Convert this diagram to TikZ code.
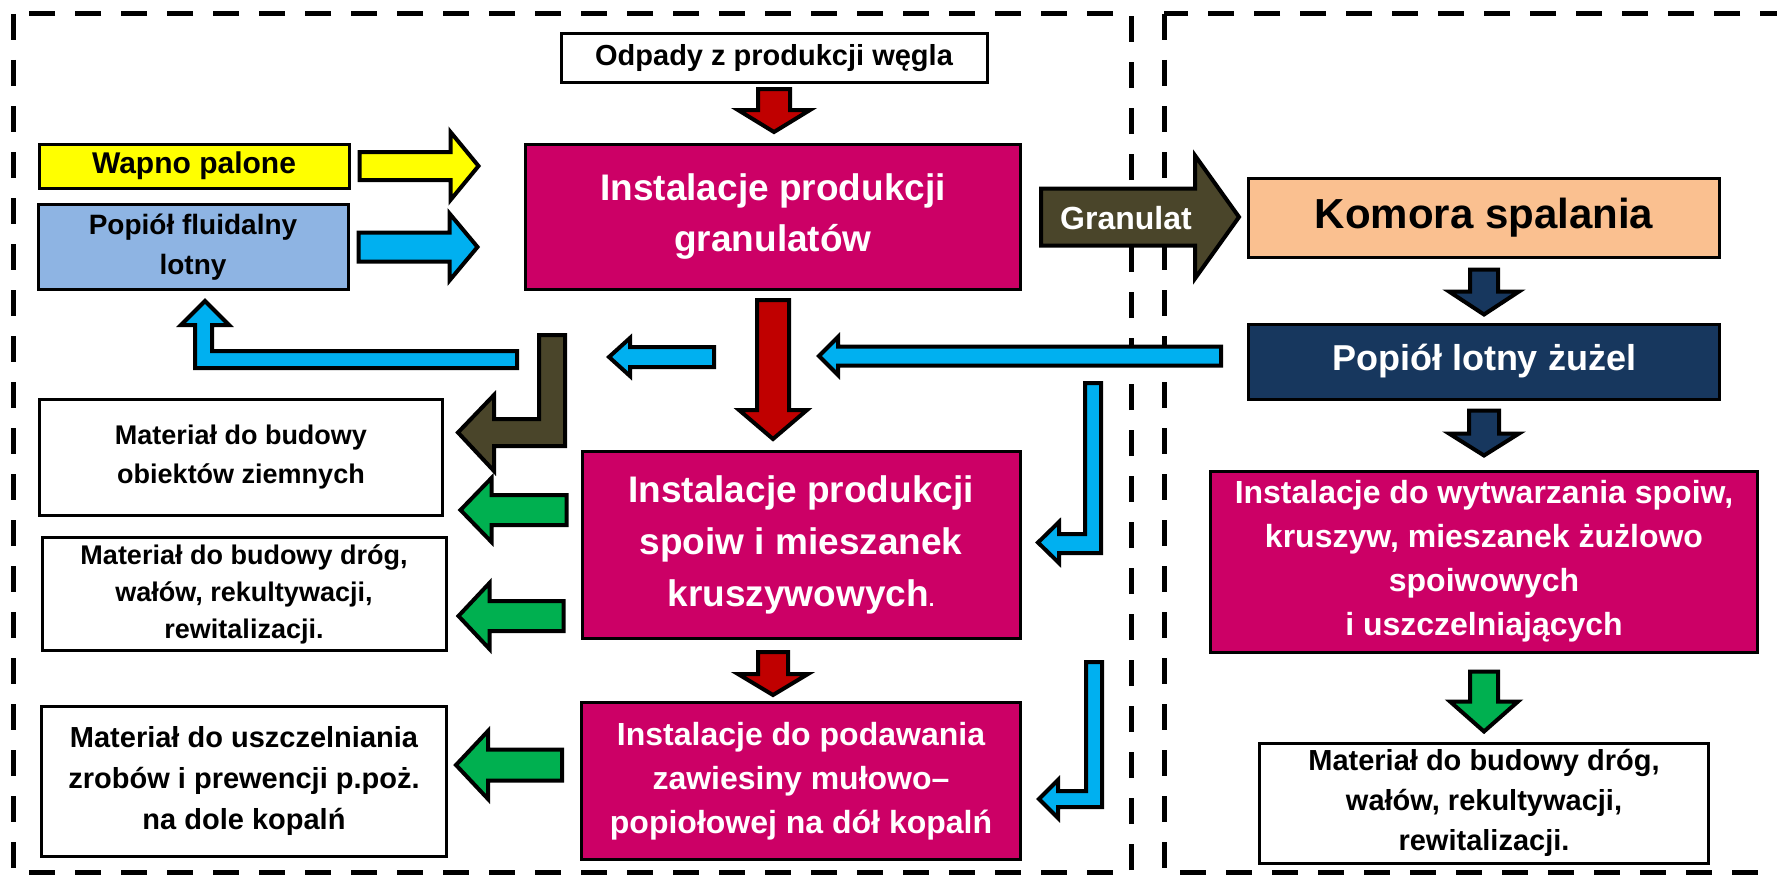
\documentclass[tikz,border=0pt]{standalone}
\usepackage{fontspec}
\setmainfont{Liberation Sans}
\usetikzlibrary{calc,positioning}

\definecolor{malinowy}{HTML}{CC0066}
\definecolor{czerwony}{HTML}{C00000}
\definecolor{niebieski}{HTML}{00B0F0}
\definecolor{zielony}{HTML}{00B050}
\definecolor{oliwka}{HTML}{4A452A}
\definecolor{granat}{HTML}{17375E}
\definecolor{brzoskwinia}{HTML}{FAC090}
\definecolor{blekit}{HTML}{8EB4E3}
\definecolor{zolty}{HTML}{FFFF00}

\newcommand{\rozm}[2]{\fontsize{#1}{#2}\selectfont}
% kolor, ogon, kat, dlugosc, pol. trzonu, pol. grotu, dl. grotu
\newcommand{\strzalka}[7]{%
  \draw[strz, fill=#1, shift={#2}, rotate=#3]
    (0,-#5) -- ({#4-#7},-#5) -- ({#4-#7},-#6) -- (#4,0) -- ({#4-#7},#6) -- ({#4-#7},#5) -- (0,#5) -- cycle;}

\tikzset{
  pole/.style={draw=black, line width=3pt, align=center, inner sep=0pt, text=black},
  strz/.style={draw=black, line width=4pt, line join=miter, miter limit=10},
  ramka/.style={line width=5pt, dash pattern=on 26pt off 20pt},
}

\begin{document}
\begin{tikzpicture}[x=1pt, y=-1pt]
\useasboundingbox (0,0) rectangle (1777,875);
\clip (0,0) rectangle (1777,875);
% ramki
\draw[ramka] (13,14) rectangle (1131,872);
\draw[ramka] (1164,14) rectangle (1790,872);

% lewa strona
\node[pole, fill=white, minimum width=426pt, minimum height=49pt, font=\bfseries\rozm{29}{35}] (odpady) at (774,58) {Odpady z produkcji węgla};
\node[pole, fill=malinowy, text=white, minimum width=495pt, minimum height=145pt, font=\bfseries\rozm{37}{51}] (granulaty) at (773,217) {Instalacje produkcji\\granulatów};
\node[pole, fill=zolty, minimum width=310pt, minimum height=44pt, font=\bfseries\rozm{30}{36}] (wapno) at (194,166) {Wapno palone};
\node[pole, fill=blekit, minimum width=310pt, minimum height=85pt, font=\bfseries\rozm{28}{40}] (popfl) at (193,247) {Popiół fluidalny\\lotny};
\node[pole, fill=white, minimum width=403pt, minimum height=116pt, font=\bfseries\rozm{27}{39}] (ziemne) at (241,457) {Materiał do budowy\\obiektów ziemnych};
\node[pole, fill=white, minimum width=404pt, minimum height=113pt, font=\bfseries\rozm{27}{37}] (drogi) at (244,594) {Materiał do budowy dróg,\\wałów, rekultywacji,\\rewitalizacji.};
\node[pole, fill=white, minimum width=405pt, minimum height=150pt, font=\bfseries\rozm{29}{41}] (uszczel) at (244,781) {Materiał do uszczelniania\\zrobów i prewencji p.poż.\\na dole kopalń};
\node[pole, fill=malinowy, text=white, minimum width=438pt, minimum height=187pt, font=\bfseries\rozm{37}{52}] (spoiwa) at (801,545) {Instalacje produkcji\\spoiw i mieszanek\\kruszywowych{\rozm{20}{20}.}};
\node[pole, fill=malinowy, text=white, minimum width=439pt, minimum height=157pt, font=\bfseries\rozm{32}{44}] (podaw) at (801,781) {Instalacje do podawania\\zawiesiny mułowo–\\popiołowej na dół kopalń};

% prawa strona
\node[pole, fill=brzoskwinia, minimum width=471pt, minimum height=79pt, font=\bfseries\rozm{42}{48}] (komora) at (1484,217.5) {Komora spalania};
\node[pole, fill=granat, text=white, minimum width=471pt, minimum height=75pt, font=\bfseries\rozm{36}{42}] (zuzel) at (1484,361.5) {Popiół lotny żużel};
\node[pole, fill=malinowy, text=white, minimum width=547pt, minimum height=181pt, font=\bfseries\rozm{32}{44}] (wytw) at (1484,561.5) {Instalacje do wytwarzania spoiw,\\kruszyw, mieszanek żużlowo\\spoiwowych\\i uszczelniających};
\node[pole, fill=white, minimum width=449pt, minimum height=120pt, font=\bfseries\rozm{29}{40}] (drogip) at (1484,803) {Materiał do budowy dróg,\\wałów, rekultywacji,\\rewitalizacji.};

% strzalki proste
\strzalka{czerwony}{($(odpady.south)+(0,5)$)}{-90}{43}{16}{36}{22}
\strzalka{zolty}{($(wapno.east)+(9,0)$)}{0}{119}{14}{34}{28}
\strzalka{niebieski}{($(popfl.east)+(9,0)$)}{0}{119}{14.5}{33.5}{28}
\strzalka{czerwony}{($(granulaty.south)+(0,9)$)}{-90}{139}{16}{34}{29}
\strzalka{czerwony}{($(granulaty.south |- spoiwa.south)+(0,12)$)}{-90}{43}{15}{35}{21}
\strzalka{niebieski}{(714,357)}{180}{105}{10}{19}{21}
\strzalka{niebieski}{($(zuzel.west)+(-26,-5.5)$)}{180}{402}{9.5}{19}{19}
\strzalka{zielony}{($(spoiwa.west)+(-14,-35)$)}{180}{106}{15}{32}{31}
\strzalka{zielony}{($(spoiwa.west)+(-17,71)$)}{180}{105}{15}{33}{31}
\strzalka{zielony}{($(podaw.west)+(-18,-16)$)}{180}{106}{15.5}{34}{32}
\strzalka{oliwka}{($(granulaty.east)+(19,0)$)}{0}{198}{28.5}{61.5}{44}
\strzalka{granat}{($(komora.south)+(0,11)$)}{-90}{45}{14}{35}{23}
\strzalka{granat}{($(zuzel.south)+(0,10)$)}{-90}{45}{15}{35}{22}
\strzalka{zielony}{($(wytw.south)+(0,18)$)}{-90}{60}{14}{34}{30}
\node[text=white, font=\bfseries\rozm{32}{32}] (granulat) at (1126,218) {Granulat};

% strzalki lamane
\draw[strz, fill=niebieski] (517,351) -- (212,351) -- (212,325) -- (229,325) -- (205,301) -- (181,325) -- (195,325) -- (195,368) -- (517,368) -- cycle;
\draw[strz, fill=oliwka] (539,335) -- (565,335) -- (565,446) -- (494,446) -- (494,471) -- (458,432.5) -- (494,395) -- (494,419) -- (539,419) -- cycle;
\draw[strz, fill=niebieski] (1085,383) -- (1101,383) -- (1101,553) -- (1059,553) -- (1059,563) -- (1038,542.5) -- (1059,522) -- (1059,534) -- (1085,534) -- cycle;
\draw[strz, fill=niebieski] (1086,662) -- (1102,662) -- (1102,807) -- (1058,807) -- (1058,818) -- (1039,799) -- (1058,780) -- (1058,791) -- (1086,791) -- cycle;
\end{tikzpicture}
\end{document}
